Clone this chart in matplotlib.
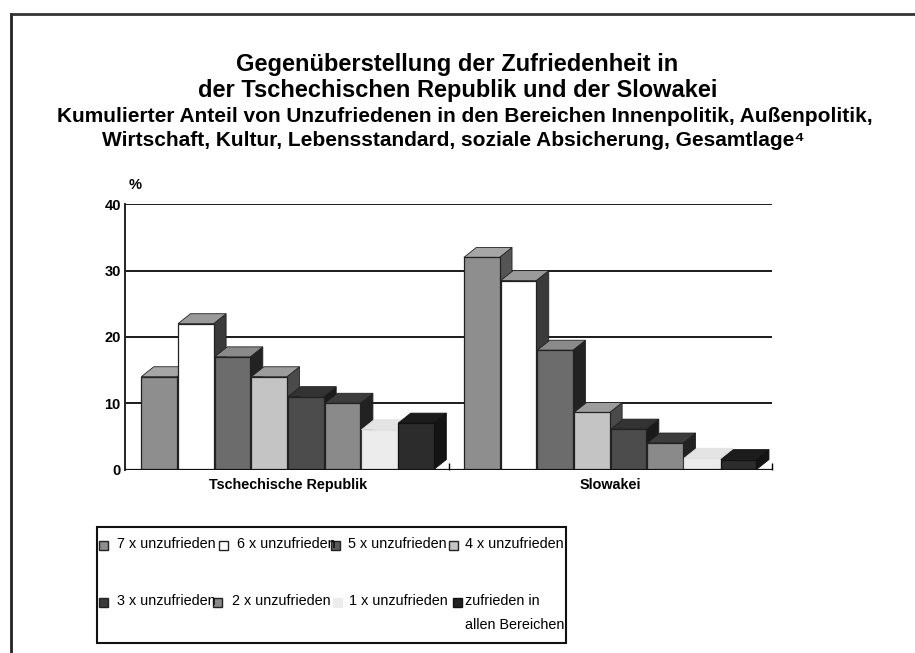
import matplotlib
matplotlib.use("Agg")
import matplotlib.pyplot as plt
from matplotlib.patches import Polygon, Rectangle
from matplotlib.lines import Line2D

font = "Liberation Sans"

countries = ["Tschechische Republik", "Slowakei"]
series = ["7 x unzufrieden", "6 x unzufrieden", "5 x unzufrieden", "4 x unzufrieden",
          "3 x unzufrieden", "2 x unzufrieden", "1 x unzufrieden",
          "zufrieden in\nallen Bereichen"]
czech = [14, 22, 17, 14, 11, 10, 6, 7]
slovak = [32, 28.5, 18, 8.6, 6.1, 4, 1.7, 1.5]

# front, top, side colours
front = ["#8e8e8e", "#ffffff", "#6c6c6c", "#c4c4c4", "#4c4c4c", "#8a8a8a", "#ececec", "#2c2c2c"]
top = ["#a6a6a6", "#9a9a9a", "#8a8a8a", "#9c9c9c", "#333333", "#3c3c3c", "#e4e4e4", "#1c1c1c"]
side = ["#555555", "#3a3a3a", "#222222", "#4a4a4a", "#1a1a1a", "#222222", "#e8e8e8", "#141414"]
edge = ["#222222"] * 6 + ["#e0e0e0", "#111111"]

fig = plt.figure(figsize=(9.15, 6.53), dpi=100)

# outer frame
fig.add_artist(Line2D([11 / 915, 11 / 915], [0, 1 - 14 / 653], color="#222222", lw=2))
fig.add_artist(Line2D([11 / 915, 1], [1 - 14 / 653, 1 - 14 / 653], color="#333333", lw=2))

fig.text(0.5, 1 - 65 / 653, "Gegenüberstellung der Zufriedenheit in",
         ha="center", va="center", fontsize=17, fontweight="bold", family=font)
fig.text(0.5, 1 - 90 / 653, "der Tschechischen Republik und der Slowakei",
         ha="center", va="center", fontsize=17, fontweight="bold", family=font)
fig.text(0.508, 1 - 117 / 653,
         "Kumulierter Anteil von Unzufriedenen in den Bereichen Innenpolitik, Außenpolitik,",
         ha="center", va="center", fontsize=15, fontweight="bold", family=font)
fig.text(0.495, 1 - 140 / 653,
         "Wirtschaft, Kultur, Lebensstandard, soziale Absicherung, Gesamtlage\u2074",
         ha="center", va="center", fontsize=15, fontweight="bold",
         family=[font, "DejaVu Sans"])

ax = fig.add_axes([0.1366, 0.281, 0.7068, 0.4061])
gap = 8.79
dx, dy = 0.34, 1.5
w = 0.97
values = [czech, slovak]

for i in range(len(series)):
    xs = [g * gap + i - 3.5 for g in range(2)]
    hs = [values[g][i] for g in range(2)]
    z = 3 + i
    for x, h in zip(xs, hs):
        x0, x1 = x - w / 2, x + w / 2
        ax.add_patch(Polygon([(x1, 0), (x1 + dx, dy), (x1 + dx, h + dy), (x1, h)],
                             closed=True, fc=side[i], ec=edge[i], lw=0.6, zorder=z))
        ax.add_patch(Polygon([(x0, h), (x0 + dx, h + dy), (x1 + dx, h + dy), (x1, h)],
                             closed=True, fc=top[i], ec=edge[i], lw=0.6, zorder=z))
    ax.bar(xs, hs, width=w, color=front[i], edgecolor=edge[i], lw=0.9, zorder=z + 0.5)

ax.set_xlim(-4.43, 13.19)
ax.set_ylim(0, 40)
for yv in [10, 20, 30, 40]:
    ax.axhline(yv, color="#1a1a1a", lw=1.4, zorder=1)
ax.axhline(0, color="#111111", lw=1.6, zorder=20)

for s in ["top", "right", "bottom"]:
    ax.spines[s].set_visible(False)
ax.spines["left"].set_linewidth(1.4)
ax.spines["left"].set_color("#222222")

ax.set_yticks([0, 10, 20, 30, 40])
ax.tick_params(axis="y", length=0, pad=3)
for lab in ax.get_yticklabels():
    lab.set_fontweight("bold")
    lab.set_fontsize(10.5)
    lab.set_family(font)

ax.set_xticks([0, gap])
ax.set_xticklabels(countries, fontsize=10.4, family=font, fontweight="bold")
ax.tick_params(axis="x", length=0, pad=6)
ax.set_xticks([gap / 2, 13.19], minor=True)
ax.tick_params(axis="x", which="minor", direction="in", length=5, width=1)

fig.text(135 / 915, 1 - 185 / 653, "%", ha="center", va="center",
         fontsize=10.5, fontweight="bold", family=font)

# legend box
fig.add_artist(Rectangle((97 / 915, 1 - 643 / 653), (566 - 97) / 915, (643 - 527) / 653,
                         transform=fig.transFigure, fill=False, ec="#111111", lw=1.5))
leg_fc = ["#8e8e8e", "#ffffff", "#5a5a5a", "#c4c4c4", "#3a3a3a", "#8a8a8a", "#ececec", "#222222"]
leg_ec = ["#222222"] * 6 + ["#ececec", "#111111"]
sq_x = [103, 223, 335, 453, 103, 217, 337, 457]
tx_x = [117, 237, 348, 465, 117, 232, 349, 465]
row_y = [545, 545, 545, 545, 602, 602, 602, 602]
for i, lab in enumerate(series):
    fig.add_artist(Rectangle(((sq_x[i] - 4.5) / 915, 1 - (row_y[i] + 4.5) / 653), 9 / 915, 9 / 653,
                             transform=fig.transFigure, fc=leg_fc[i], ec=leg_ec[i], lw=1))
    fig.text(tx_x[i] / 915, 1 - (row_y[i] - 8) / 653, lab, ha="left", va="top",
             fontsize=10.4, family=font, linespacing=1.9)

fig.savefig("out.png", dpi=100)
